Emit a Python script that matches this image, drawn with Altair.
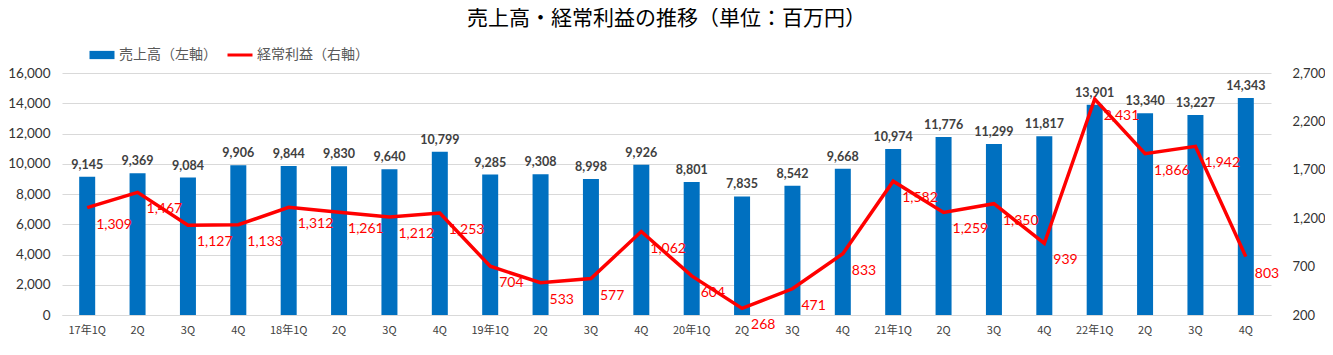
import altair as alt
import pandas as pd

periods = ["17年1Q", "2Q", "3Q", "4Q", "18年1Q", "2Q ", "3Q ", "4Q ",
           "19年1Q", "2Q  ", "3Q  ", "4Q  ", "20年1Q", "2Q   ", "3Q   ", "4Q   ",
           "21年1Q", "2Q    ", "3Q    ", "4Q    ", "22年1Q", "2Q     ", "3Q     ", "4Q     "]
sales = [9145, 9369, 9084, 9906, 9844, 9830, 9640, 10799,
         9285, 9308, 8998, 9926, 8801, 7835, 8542, 9668,
         10974, 11776, 11299, 11817, 13901, 13340, 13227, 14343]
profit = [1309, 1467, 1127, 1133, 1312, 1261, 1212, 1253,
          704, 533, 577, 1062, 604, 268, 471, 833,
          1582, 1259, 1350, 939, 2431, 1866, 1942, 803]
series_names = ["売上高（左軸）", "経常利益（右軸）"]
series_colors = ["#0070c0", "#ff0000"]
left_ticks = [0, 2000, 4000, 6000, 8000, 10000, 12000, 14000, 16000]
right_ticks = [200, 700, 1200, 1700, 2200, 2700]

df = pd.DataFrame({"period": periods, "sales": sales, "profit": profit,
                   "s1": [series_names[0]] * len(periods),
                   "s2": [series_names[1]] * len(periods)})

FONT = "Lato, 'Noto Sans CJK JP', sans-serif"
JFONT = "'Noto Sans CJK JP', sans-serif"

x_enc = alt.X("period:N", sort=periods,
              scale=alt.Scale(paddingInner=0, paddingOuter=0),
              axis=alt.Axis(title=None, labelAngle=0, ticks=False, domainColor="#d9d9d9",
                            labelFont=JFONT, labelFontSize=11, labelColor="#404040",
                            labelPadding=9, labelExpr="trim(datum.label)"))


def make_legend(x, shape):
    return alt.Legend(title=None, orient="none", direction="horizontal",
                      legendX=x, legendY=-32, labelFont=JFONT, labelFontSize=14,
                      labelColor="#595959", symbolSize=625, symbolType=shape,
                      symbolStrokeWidth=3, labelOffset=3)


y_left = alt.Y("sales:Q", scale=alt.Scale(domain=[0, 16000], nice=False, zero=True),
               axis=alt.Axis(title=None, values=left_ticks, format=",.0f", grid=True,
                             gridColor="#d9d9d9", domain=False, ticks=False,
                             labelFont=FONT, labelFontSize=13.5, labelColor="#333333",
                             labelPadding=12))

bars = alt.Chart(df).mark_bar(size=16).encode(
    x=x_enc, y=y_left,
    fill=alt.Fill("s1:N",
                  scale=alt.Scale(domain=[series_names[0]], range=[series_colors[0]]),
                  legend=make_legend(26, "M-1,-0.33H1V0.33H-1Z")))
bar_text = alt.Chart(df).mark_text(dy=-12, fontWeight="bold", fontSize=12.5,
                                   color="#404040", font=FONT).encode(
    x=x_enc, y=y_left, text=alt.Text("sales:Q", format=",.0f"))
left = alt.layer(bars, bar_text)

y_right = alt.Y("profit:Q", scale=alt.Scale(domain=[200, 2700], nice=False, zero=False),
                axis=alt.Axis(title=None, orient="right", values=right_ticks, format=",.0f",
                              grid=False, domain=False, ticks=False,
                              labelFont=FONT, labelFontSize=13, labelColor="#333333",
                              labelPadding=21))
line = alt.Chart(df).mark_line(strokeWidth=3.5).encode(
    x=x_enc, y=y_right,
    stroke=alt.Stroke("s2:N",
                      scale=alt.Scale(domain=[series_names[1]], range=[series_colors[1]]),
                      legend=make_legend(164, "stroke")))
line_text = alt.Chart(df).mark_text(align="left", dx=9, dy=17, fontSize=14,
                                    color="#ff0000", font=FONT).encode(
    x=x_enc, y=y_right, text=alt.Text("profit:Q", format=",.0f"))
right = alt.layer(line, line_text)

chart = alt.layer(left, right).resolve_scale(y="independent").properties(
    width=1209, height=242,
    autosize=alt.AutoSizeParams(type="none"),
    padding={"left": 54, "top": 65, "right": 54, "bottom": 32},
    title=alt.TitleParams("売上高・経常利益の推移（単位：百万円）", font=JFONT, fontSize=21,
                          fontWeight="normal", color="#000000", anchor="middle", offset=12),
).configure_view(stroke=None)

chart.save("out.html", embed_options={"renderer": "svg", "actions": False})
